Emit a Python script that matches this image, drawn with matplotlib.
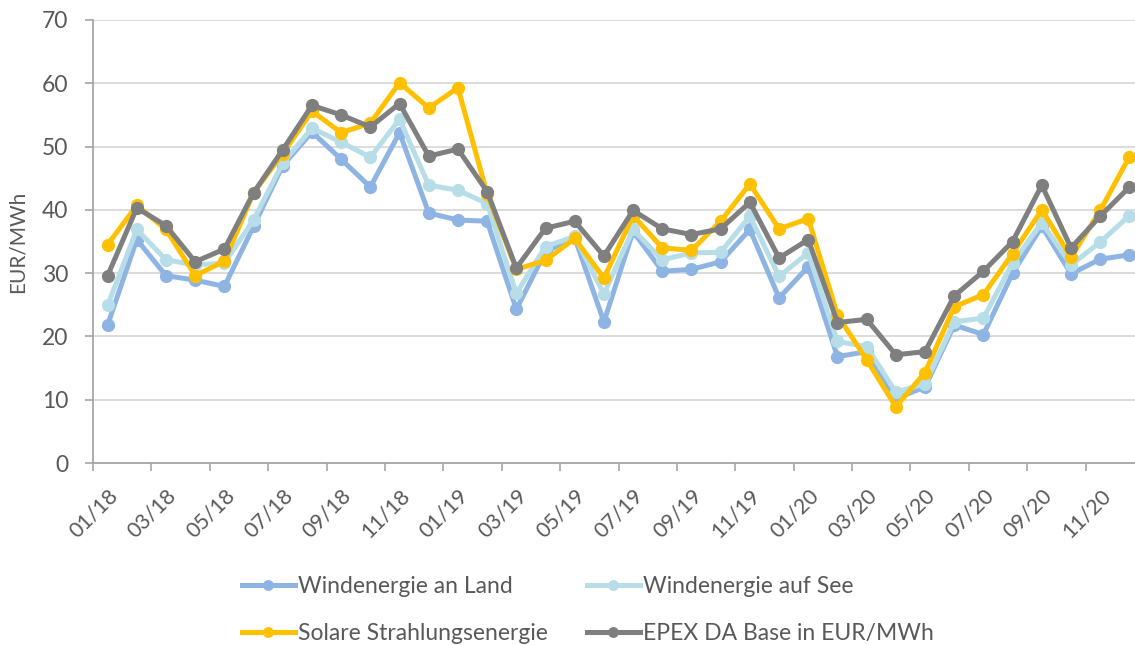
import numpy as np
import matplotlib
matplotlib.use('Agg')
import matplotlib.pyplot as plt

plt.rcParams['font.family'] = ['Lato', 'DejaVu Sans']

# months 01/18 .. 12/20
months = [f"{m:02d}/{y}" for y in (18, 19, 20) for m in range(1, 13)]

wind_land = [21.8, 35.3, 29.6, 28.9, 27.9, 37.4, 47.0, 52.3, 48.0, 43.6, 52.2, 39.5,
             38.4, 38.2, 24.3, 33.4, 35.6, 22.3, 36.6, 30.3, 30.6, 31.8, 36.9, 26.1,
             31.0, 16.8, 17.6, 10.2, 12.0, 21.8, 20.3, 30.0, 37.4, 29.9, 32.2, 32.9]
wind_see = [24.9, 36.9, 32.1, 31.3, 31.6, 38.4, 47.4, 52.9, 50.7, 48.3, 54.3, 43.9,
            43.1, 41.0, 26.8, 34.2, 35.8, 26.7, 36.9, 32.1, 33.2, 33.3, 39.0, 29.5,
            33.2, 19.2, 18.4, 11.2, 12.5, 22.3, 22.9, 31.6, 38.0, 31.3, 34.9, 39.1]
solar = [34.5, 40.7, 36.9, 29.6, 31.9, 42.7, 48.9, 55.6, 52.2, 53.7, 60.1, 56.1,
         59.3, 42.5, 30.6, 32.0, 35.5, 29.2, 39.1, 34.0, 33.6, 38.2, 44.1, 37.0,
         38.6, 23.4, 16.3, 8.9, 14.3, 24.7, 26.6, 33.1, 40.0, 32.5, 39.9, 48.4]
epex = [29.6, 40.3, 37.5, 31.8, 33.8, 42.7, 49.5, 56.5, 55.0, 53.1, 56.8, 48.5,
        49.6, 42.9, 30.8, 37.1, 38.2, 32.7, 39.9, 37.0, 36.1, 37.0, 41.2, 32.4,
        35.3, 22.2, 22.7, 17.1, 17.6, 26.4, 30.3, 35.0, 43.9, 34.0, 39.0, 43.6]

series = [
    ("Windenergie an Land", wind_land, "#8EB4E3"),
    ("Windenergie auf See", wind_see, "#B7DEE8"),
    ("Solare Strahlungsenergie", solar, "#FFC000"),
    ("EPEX DA Base in EUR/MWh", epex, "#7F7F7F"),
]

txt = "#595959"
W, H = 1135, 645
fig = plt.figure(figsize=(W / 100, H / 100), dpi=100)
ax = fig.add_axes([93 / W, (H - 463) / H, (1144 - 93) / W, (463 - 20) / H])

x = np.arange(len(months))
lines = []
for name, vals, col in series:
    ln, = ax.plot(x, vals, color=col, lw=3.6, marker='o', ms=8.5, label=name,
                  solid_joinstyle='round', zorder=3)
    lines.append(ln)

ax.set_xlim(-0.5, len(months) - 0.5)
ax.set_ylim(0, 70)
ax.set_yticks(range(0, 71, 10))
ax.grid(axis='y', color='#D9D9D9', lw=1.3, zorder=0)
ax.set_axisbelow(True)

# category axis: tick marks between categories, labels on every 2nd month
ax.set_xticks(x[::2])
ax.set_xticklabels(months[::2], rotation=45, ha='right', rotation_mode='anchor')
ax.set_xticks(np.arange(-0.5, len(months) - 0.5, 2), minor=True)
ax.tick_params(axis='x', which='major', length=0, colors=txt, labelsize=15.5, pad=16)
ax.tick_params(axis='x', which='minor', length=6, width=1.2, color='#A6A6A6')
ax.tick_params(axis='y', length=6, width=1.2, color='#A6A6A6', colors=txt,
               labelsize=16.5, pad=12)

for s in ['top', 'right']:
    ax.spines[s].set_visible(False)
for s in ['left', 'bottom']:
    ax.spines[s].set_color('#A6A6A6')
    ax.spines[s].set_linewidth(1.3)

ax.set_ylabel("EUR/MWh", color=txt, fontsize=15, labelpad=10)

# legend filled row by row, like the original
order = [0, 2, 1, 3]
fig.legend([lines[i] for i in order], [series[i][0] for i in order],
           loc='center', bbox_to_anchor=(588 / W, (H - 610) / H), ncol=2,
           frameon=False, fontsize=16.5, handlelength=2.3, handletextpad=0.15,
           columnspacing=1.7, labelspacing=1.1, labelcolor=txt, markerscale=0.8)

fig.savefig("out.png", dpi=100)
